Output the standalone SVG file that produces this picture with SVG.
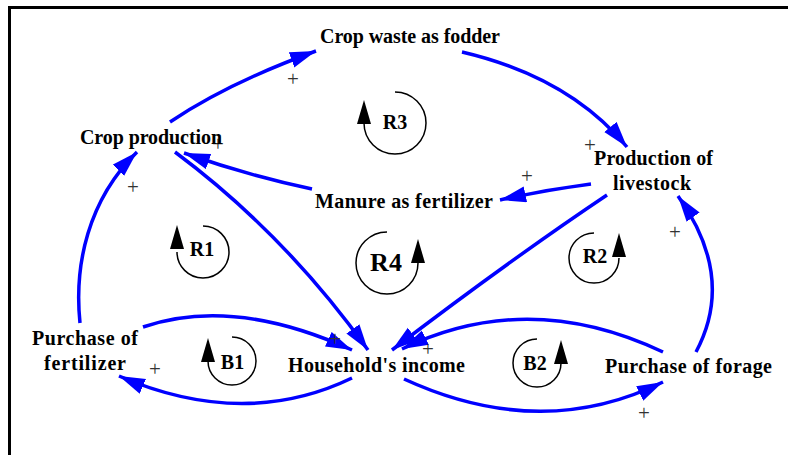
<svg xmlns="http://www.w3.org/2000/svg" width="788" height="455" viewBox="0 0 788 455">
<style>
text{font-family:"Liberation Serif","Times New Roman",Times,serif}
.lbl{font-weight:bold;font-size:20px;fill:#000;text-anchor:middle}
.big{font-size:26px}
.pl{font-size:21px;fill:#333;text-anchor:middle}
.lnk{fill:none;stroke:#0000FF;stroke-width:3.5;marker-end:url(#ah)}
.arc{fill:none;stroke:#000;stroke-width:1.5}
</style>
<defs>
<marker id="ah" markerUnits="userSpaceOnUse" markerWidth="28" markerHeight="18" refX="26" refY="8" orient="auto">
<path d="M0,0 L26,8 L0,16 z" fill="#0000FF"/>
</marker>
<path id="la" d="M0,0 L7,24 L-7,24 z" fill="#000"/>
</defs>
<rect width="788" height="455" fill="#fff"/>
<g id="frame" stroke="#000" stroke-width="3" fill="none">
<path d="M788,7.5 L9.5,7.5 L9.5,455"/>
</g>
<g id="connectors">
<path class="lnk" d="M170,122 Q228,83 316,51"/>
<path class="lnk" d="M462,52 Q569,77 627,147"/>
<path class="lnk" d="M591,184 Q545,190 500,200"/>
<path class="lnk" d="M312,189 Q250,176 184,153"/>
<path class="lnk" d="M175,152 Q285,234 368,350"/>
<path class="lnk" d="M607,195 Q510,260 392,350"/>
<path class="lnk" d="M80,323 C74,265 88,200 137,152"/>
<path class="lnk" d="M143,327 Q233,296 352,350"/>
<path class="lnk" d="M352,378 Q244,430 119,376"/>
<path class="lnk" d="M404,379 Q541,442 663,382"/>
<path class="lnk" d="M663,352 Q528,288 402,349"/>
<path class="lnk" d="M696,352 Q736,277 678,196"/>
</g>
<g id="polarity">
<text class="pl" x="293" y="86">+</text>
<text class="pl" x="590" y="152">+</text>
<text class="pl" x="527" y="183">+</text>
<text class="pl" x="218" y="151">+</text>
<text class="pl" x="133" y="194">+</text>
<text class="pl" x="335" y="346">+</text>
<text class="pl" x="155" y="376">+</text>
<text class="pl" x="428" y="356">+</text>
<text class="pl" x="644" y="420">+</text>
<text class="pl" x="675" y="239">+</text>
</g>
<g id="crop-waste"><text class="lbl" x="410" y="43" textLength="180" lengthAdjust="spacing">Crop waste as fodder</text></g>
<g id="crop-production"><text class="lbl" x="151" y="144" textLength="142" lengthAdjust="spacing">Crop production</text></g>
<g id="manure"><text class="lbl" x="404" y="208" textLength="178" lengthAdjust="spacing">Manure as fertilizer</text></g>
<g id="livestock">
<text class="lbl" x="653.5" y="165" textLength="119" lengthAdjust="spacing">Production of</text>
<text class="lbl" x="652" y="190" textLength="78" lengthAdjust="spacing">livestock</text>
</g>
<g id="purchase-fertilizer">
<text class="lbl" x="85" y="345" textLength="106" lengthAdjust="spacing">Purchase of</text>
<text class="lbl" x="85" y="370" textLength="82" lengthAdjust="spacing">fertilizer</text>
</g>
<g id="household-income"><text class="lbl" x="376.5" y="372" textLength="177" lengthAdjust="spacing">Household's income</text></g>
<g id="purchase-forage"><text class="lbl" x="688.5" y="373" textLength="167" lengthAdjust="spacing">Purchase of forage</text></g>
<g id="loop-R3">
<path class="arc" d="M395,92 A31,31 0 1 1 364,123"/>
<use href="#la" x="364" y="100"/>
<text class="lbl" x="395" y="129">R3</text>
</g>
<g id="loop-R1">
<path class="arc" d="M203,226 A26,26 0 1 1 177,252"/>
<use href="#la" x="177" y="225"/>
<text class="lbl" x="202" y="256">R1</text>
</g>
<g id="loop-R4">
<path class="arc" d="M387,232 A31,31 0 1 0 418,263"/>
<use href="#la" x="418" y="239"/>
<text class="lbl big" x="386" y="271">R4</text>
</g>
<g id="loop-R2">
<path class="arc" d="M594,233 A25,25 0 1 0 619,258"/>
<use href="#la" x="619" y="233"/>
<text class="lbl" x="595" y="263">R2</text>
</g>
<g id="loop-B1">
<path class="arc" d="M232,337 A24,24 0 1 1 208,361"/>
<use href="#la" x="208" y="338"/>
<text class="lbl" x="232.5" y="369">B1</text>
</g>
<g id="loop-B2">
<path class="arc" d="M537,339 A24,24 0 1 0 561,363"/>
<use href="#la" x="561" y="340"/>
<text class="lbl" x="535" y="370">B2</text>
</g>
</svg>
